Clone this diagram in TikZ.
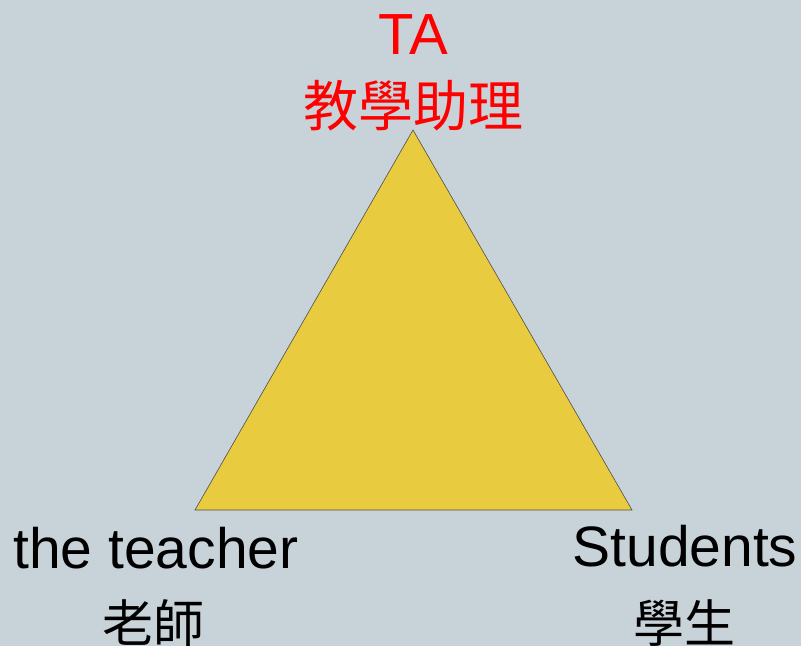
\documentclass[tikz,border=0pt]{standalone}
\usepackage{fontspec}
\setmainfont{Liberation Sans}
\newfontfamily\cjk{Noto Sans CJK TC}
\definecolor{bgc}{HTML}{C8D2D9}
\definecolor{triy}{HTML}{E9CB40}
\definecolor{tared}{HTML}{FF0000}
\begin{document}
\begin{tikzpicture}[x=1pt,y=-1pt,
  lat/.style={inner sep=0pt,anchor=base,font=\fontsize{57}{60}\selectfont},
  han/.style={inner sep=0pt,anchor=center,font=\cjk\fontsize{51}{56}\selectfont}]
\fill[bgc] (0,0) rectangle (801,646);
\useasboundingbox (0,0) rectangle (801,646);
\coordinate (top) at (413,130);
\coordinate (bl) at (195,510);
\coordinate (br) at (632,510);
\draw[fill=triy,draw=black!70,line width=0.6pt,line join=miter] (top) -- (bl) -- (br) -- cycle;
\node[lat,text=tared,font=\fontsize{58}{60}\selectfont] (ta) at (413,54) {TA};
\node[han,text=tared,font=\cjk\fontsize{55}{60}\selectfont] (tazh) at (413,106) {教學助理};
\node[lat] (teacher) at (156,568) {the teacher};
\node[han] (teacherzh) at (153,623) {老師};
\node[lat] (students) at (685,566) {Students};
\node[han] (studentszh) at (684,623) {學生};
\end{tikzpicture}
\end{document}
